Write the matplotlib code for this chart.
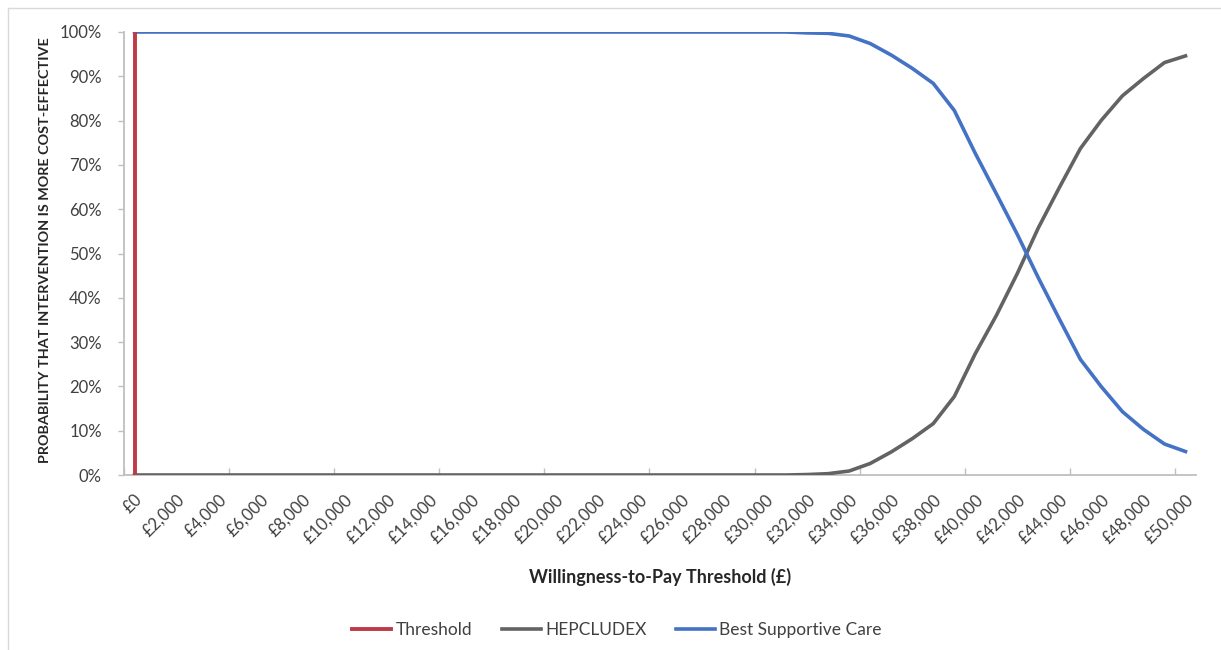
import numpy as np
import matplotlib.pyplot as plt
from matplotlib.ticker import FixedLocator, PercentFormatter

# Limiar de disposição a pagar (categorias de £0 a £50.000, passo £1.000)
wtp = np.arange(0, 51000, 1000)

# Probabilidade de ser custo-efetivo
hepcludex = [0.0] * 32 + [
    0.001, 0.003, 0.009, 0.026, 0.052, 0.082, 0.116, 0.177, 0.274, 0.360,
    0.455, 0.558, 0.649, 0.737, 0.801, 0.856, 0.895, 0.931, 0.946,
]
bsc = [1.0] * 32 + [
    0.998, 0.997, 0.991, 0.974, 0.948, 0.918, 0.884, 0.823, 0.726, 0.635,
    0.543, 0.445, 0.352, 0.261, 0.199, 0.143, 0.103, 0.070, 0.053,
]

# Linha do limiar
threshold_x = [0, 0]
threshold_y = [0, 1]

tick_labels = ['£{:,}'.format(v) for v in range(0, 50001, 2000)]

plt.rcParams['font.family'] = ['Lato', 'DejaVu Sans']

fig = plt.figure(figsize=(12.21, 6.5), dpi=100)
ax = fig.add_axes([124 / 1221, 1 - 475 / 650, (1196 - 124) / 1221, (475 - 32) / 650])

# moldura externa (só esquerda e topo aparecem)
fig.add_artist(plt.Line2D([8 / 1221, 8 / 1221], [0, 1 - 8 / 650], color='#d9d9d9', lw=1))
fig.add_artist(plt.Line2D([8 / 1221, 1], [1 - 8 / 650, 1 - 8 / 650], color='#d9d9d9', lw=1))

ax.plot(threshold_x, threshold_y, color='#BE3A46', lw=2.8, label='Threshold', zorder=4)
ax.plot(wtp, hepcludex, color='#636363', lw=2.6, label='HEPCLUDEX', zorder=3)
ax.plot(wtp, bsc, color='#4472C4', lw=2.6, label='Best Supportive Care', zorder=3)

ax.set_xlim(-500, 50500)
ax.set_ylim(0, 1)

# marcas a cada 5 categorias, rótulos a cada 2
ax.xaxis.set_major_locator(FixedLocator(np.arange(-500, 50501, 5000)))
ax.xaxis.set_major_formatter(plt.NullFormatter())
ax.xaxis.set_minor_locator(FixedLocator(np.arange(0, 50001, 2000)))
ax.set_xticklabels(tick_labels, minor=True, rotation=45, ha='right', va='top',
                   rotation_mode='anchor', fontsize=12, color='#404040')
ax.tick_params(axis='x', which='major', length=5, width=1, color='#bfbfbf', direction='in')
ax.tick_params(axis='x', which='minor', length=0, pad=12)

ax.set_yticks(np.arange(0, 1.01, 0.1))
ax.yaxis.set_major_formatter(PercentFormatter(1.0, decimals=0))
ax.tick_params(axis='y', length=4, width=1, color='#bfbfbf', labelsize=12, labelcolor='#404040', pad=12)

for s in ['top', 'right']:
    ax.spines[s].set_visible(False)
ax.spines['left'].set_color('#bfbfbf')
ax.spines['bottom'].set_color('#bfbfbf')
ax.spines['left'].set_linewidth(1.3)
ax.spines['bottom'].set_linewidth(1.3)

fig.text(660 / 1221, 1 - 577 / 650, 'Willingness-to-Pay Threshold (£)', ha='center', va='center',
         fontsize=13, fontweight='bold', color='#262626')
fig.text(45 / 1221, 1 - 250 / 650, 'PROBABILITY THAT INTERVENTION IS MORE COST-EFFECTIVE', ha='center',
         va='center', rotation=90, fontsize=10.4, fontweight='bold', color='#262626')

fig.legend(loc='center', bbox_to_anchor=(617 / 1221, 1 - 630 / 650), ncol=3, frameon=False,
           fontsize=12.5, handlelength=2.25, columnspacing=1.7, handletextpad=0.25,
           labelcolor='#404040')

fig.savefig('out.png', dpi=100)
